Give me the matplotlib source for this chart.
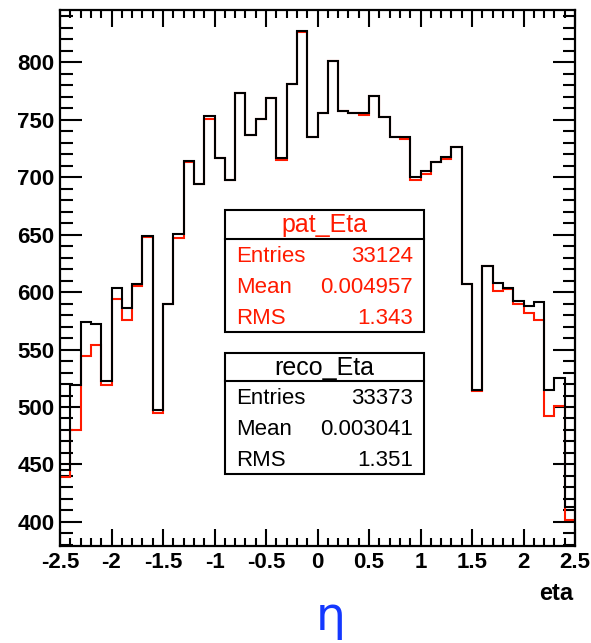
import matplotlib
matplotlib.use('Agg')
import matplotlib.pyplot as plt
import numpy as np
from matplotlib.patches import Rectangle
from matplotlib.lines import Line2D
from matplotlib.ticker import MultipleLocator, FixedLocator, FixedFormatter

# ---------------- data ----------------
eta_min, eta_max, n_bins = -2.5, 2.5, 50

reco_counts = [445, 519, 574, 572, 523, 604, 586, 607, 649, 497,
               590, 651, 714, 694, 753, 717, 698, 773, 737, 751,
               769, 717, 781, 827, 735, 756, 801, 758, 756, 756,
               771, 752, 735, 735, 700, 705, 713, 718, 726, 607,
               515, 623, 608, 604, 592, 588, 591, 515, 525, 413]

pat_counts = [439, 480, 544, 554, 519, 594, 576, 605, 648, 495,
              590, 647, 713, 694, 751, 717, 698, 773, 737, 751,
              769, 715, 781, 826, 735, 756, 801, 758, 756, 754,
              771, 752, 735, 733, 698, 703, 713, 716, 726, 607,
              514, 623, 601, 603, 590, 582, 576, 492, 501, 402]

xtick_values = [-2.5, -2, -1.5, -1, -0.5, 0, 0.5, 1, 1.5, 2, 2.5]
xtick_labels = ["-2.5", "-2", "-1.5", "-1", "-0.5", "0", "0.5", "1", "1.5", "2", "2.5"]
ytick_values = [400, 450, 500, 550, 600, 650, 700, 750, 800]
ytick_labels = ["400", "450", "500", "550", "600", "650", "700", "750", "800"]

pat_stats_names = ["Entries", "Mean", "RMS"]
pat_stats_values = ["33124", "0.004957", "1.343"]
reco_stats_names = ["Entries", "Mean", "RMS"]
reco_stats_values = ["33373", "0.003041", "1.351"]

# ---------------- figure ----------------
plt.rcParams['axes.unicode_minus'] = False
W, H = 591, 643
fig = plt.figure(figsize=(W / 100, H / 100), dpi=100)

def fx(px):
    return px / W

def fy(py):
    return 1 - py / H

RED = '#ff1a00'
ax = fig.add_axes([fx(60), fy(546), (575 - 60) / W, (546 - 9.5) / H])

edges = np.linspace(eta_min, eta_max, n_bins + 1)
ax.stairs(pat_counts, edges, color=RED, lw=1.5, baseline=None, zorder=2)
ax.stairs(reco_counts, edges, color='black', lw=1.5, baseline=None, zorder=3)

ax.set_xlim(eta_min, eta_max)
ax.set_ylim(379, 846)

ax.xaxis.set_major_locator(FixedLocator(xtick_values))
ax.xaxis.set_major_formatter(FixedFormatter(xtick_labels))
ax.xaxis.set_minor_locator(MultipleLocator(0.1))
ax.yaxis.set_major_locator(FixedLocator(ytick_values))
ax.yaxis.set_major_formatter(FixedFormatter(ytick_labels))
ax.yaxis.set_minor_locator(MultipleLocator(10))

ax.tick_params(which='both', direction='in', top=True, right=True, width=1.5,
               colors='black')
ax.tick_params(axis='x', which='major', length=12, pad=4)
ax.tick_params(axis='x', which='minor', length=6)
ax.tick_params(axis='y', which='major', length=16, pad=4)
ax.tick_params(axis='y', which='minor', length=9)
for lab in ax.get_xticklabels() + ax.get_yticklabels():
    lab.set_fontfamily('Liberation Sans')
    lab.set_fontweight('bold')
    lab.set_fontsize(16)
for sp in ax.spines.values():
    sp.set_linewidth(1.6)

# ---------------- stats boxes ----------------
def stats_box(top, sep, bottom, title, names, values, color):
    left, right = 225, 424
    fig.patches.append(Rectangle((fx(left), fy(bottom)), (right - left) / W,
                                 (bottom - top) / H, transform=fig.transFigure,
                                 facecolor='white', edgecolor='black', lw=1.5,
                                 zorder=5))
    fig.lines.append(Line2D([fx(left), fx(right)], [fy(sep), fy(sep)],
                            transform=fig.transFigure, color='black', lw=1.5,
                            zorder=6))
    fig.text(fx((left + right) / 2), fy((top + sep) / 2 + 1), title, color=color,
             ha='center', va='center', fontsize=18, family='Liberation Sans',
             zorder=7)
    row_h = (bottom - sep) / 3
    for i, (n, v) in enumerate(zip(names, values)):
        yc = sep + row_h * (i + 0.5) + 2
        fig.text(fx(236), fy(yc), n, color=color, ha='left', va='center',
                 fontsize=16, family='Liberation Sans', zorder=7)
        fig.text(fx(413), fy(yc), v, color=color, ha='right', va='center',
                 fontsize=16, family='Liberation Sans', zorder=7)

stats_box(210, 239, 332, 'pat_Eta', pat_stats_names, pat_stats_values, RED)
stats_box(353, 381, 474, 'reco_Eta', reco_stats_names, reco_stats_values, 'black')

# ---------------- axis titles ----------------
fig.text(fx(573), fy(594), 'eta', ha='right', va='center', fontsize=17,
         fontweight='bold', family='Liberation Sans')
fig.text(fx(331), fy(618), 'η', ha='center', va='center', fontsize=34,
         color='#1438ff', family='DejaVu Sans')

fig.savefig('out.png', dpi=100)
